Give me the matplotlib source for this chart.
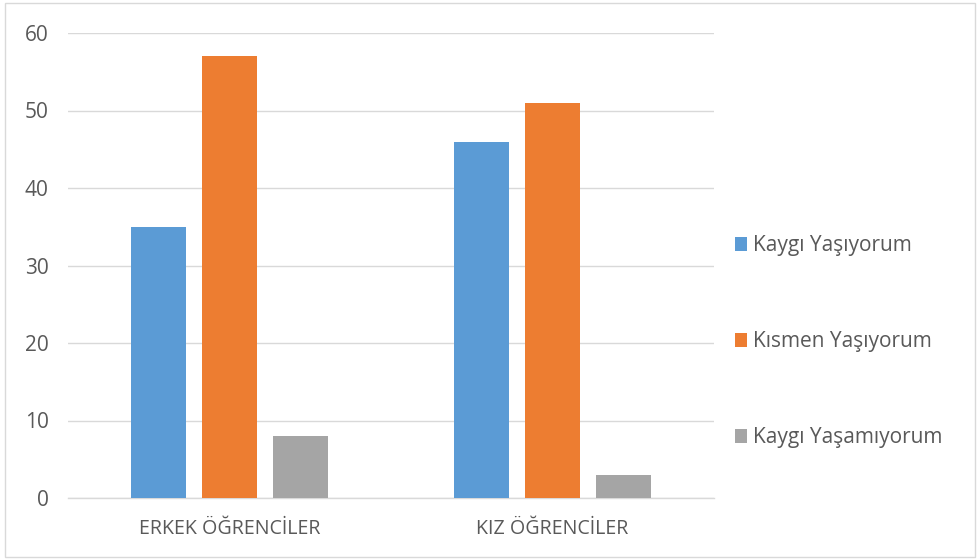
import numpy as np
import matplotlib.pyplot as plt
from matplotlib.patches import Rectangle

categories = ['ERKEK ÖĞRENCİLER', 'KIZ ÖĞRENCİLER']
series_names = ['Kaygı Yaşıyorum', 'Kısmen Yaşıyorum', 'Kaygı Yaşamıyorum']
kaygi = [35, 46]
kismen = [57, 51]
yasamiyor = [8, 3]
colors = ['#5B9BD5', '#ED7D31', '#A5A5A5']

plt.rcParams['font.family'] = ['Open Sans', 'DejaVu Sans']
text_color = '#595959'

fig = plt.figure(figsize=(9.78, 5.6), dpi=100)
ax = fig.add_axes([68/978, 1 - 498/560, (714-68)/978, (498-33)/560])

x = np.arange(len(categories))
w = 0.172
step = 0.22
for i, vals in enumerate([kaygi, kismen, yasamiyor]):
    ax.bar(x + (i - 1) * step, vals, width=w, color=colors[i], label=series_names[i], zorder=3)

ax.set_xlim(-0.5, 1.5)
ax.set_ylim(0, 60)
ax.set_yticks(range(0, 61, 10))
ax.set_xticks(x)
ax.set_xticklabels(categories)
ax.grid(axis='y', color='#D9D9D9', linewidth=1, zorder=0)
for s in ['top', 'right', 'left']:
    ax.spines[s].set_visible(False)
ax.spines['bottom'].set_color('#D9D9D9')
ax.spines['bottom'].set_linewidth(1)
ax.tick_params(axis='both', length=0, colors=text_color)
ax.tick_params(axis='x', pad=15, labelsize=14.1)
ax.tick_params(axis='y', pad=14, labelsize=15)

leg = ax.legend(loc='center left', bbox_to_anchor=(1.0, 0.336), frameon=False,
                fontsize=15, labelcolor=text_color, labelspacing=3.6,
                handlelength=0.6, handleheight=0.6, handletextpad=0.25, borderaxespad=0.6)

fig.patches.append(Rectangle((5/978, 3/560), 970/978, 554/560, transform=fig.transFigure,
                             fill=False, edgecolor='#D9D9D9', linewidth=1))

fig.savefig('out.png', dpi=100)
